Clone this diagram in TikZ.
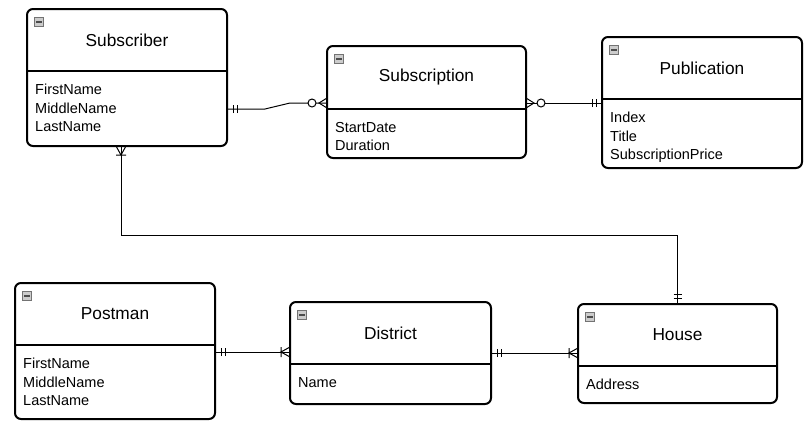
\documentclass[tikz,border=0pt]{standalone}
\usepackage{fontspec}
\setmainfont{Liberation Sans}
\usetikzlibrary{calc,decorations.markings}
\tikzset{
	entity/.style={draw, line width=2pt, rounded corners=6pt, outer sep=0pt, inner sep=0pt},
	entity line/.style={line width=2pt},
	entity title/.style={font=\fontsize{17.3}{20}\selectfont},
	entity fields/.style={font=\fontsize{14.5}{18.5}\selectfont, align=left, inner sep=0pt, anchor=north west},
	minus icon/.style={draw=black!55, fill=black!20, line width=0.8pt, minimum size=9pt, inner sep=0pt, outer sep=0pt},
	rel/.style={line width=1pt},
	onlyone start/.style={postaction={decorate, decoration={markings,
		mark=at position 6pt with {\draw[rel] (0,-4pt) -- (0,4pt);},
		mark=at position 10pt with {\draw[rel] (0,-4pt) -- (0,4pt);}}}},
	onlyone end/.style={postaction={decorate, decoration={markings,
		mark=at position -6pt with {\draw[rel] (0,-4pt) -- (0,4pt);},
		mark=at position -10pt with {\draw[rel] (0,-4pt) -- (0,4pt);}}}},
	zeromany start/.style={postaction={decorate, decoration={markings,
		mark=at position 8pt with {\draw[rel] (-8pt,5pt) -- (0,0) -- (-8pt,-5pt);},
		mark=at position 15pt with {\draw[rel, fill=white] (0,0) circle (4pt);}}}},
	zeromany end/.style={postaction={decorate, decoration={markings,
		mark=at position -8pt with {\draw[rel] (8pt,5pt) -- (0,0) -- (8pt,-5pt);},
		mark=at position -15pt with {\draw[rel, fill=white] (0,0) circle (4pt);}}}},
	onemany start/.style={postaction={decorate, decoration={markings,
		mark=at position 9pt with {\draw[rel] (-9pt,5pt) -- (0,0) -- (-9pt,-5pt) (0,-5pt) -- (0,5pt);}}}},
	onemany end/.style={postaction={decorate, decoration={markings,
		mark=at position -9pt with {\draw[rel] (9pt,5pt) -- (0,0) -- (9pt,-5pt) (0,-5pt) -- (0,5pt);}}}},
}
% entity box: name, top left, width:height:header height, title, fields
\def\entity(#1)(#2,#3)(#4:#5:#6)#7#8{
	\node[entity, minimum width=#4pt, minimum height=#5pt, anchor=north west] (#1) at (#2,#3) {};
	\draw[entity line] ([yshift=-#6pt]#1.north west) -- ([yshift=-#6pt]#1.north east);
	\node[minus icon] (#1icon) at ([xshift=12pt,yshift=-13pt]#1.north west) {};
	\draw[line width=1.4pt, black!70] ([xshift=-3pt]#1icon.center) -- ([xshift=3pt]#1icon.center);
	\node[entity title] (#1title) at ([yshift=-#6pt/2]#1.north) {#7};
	\node[entity fields] (#1fields) at ([xshift=8pt,yshift=-#6pt-13pt]#1.north west) {#8};
}
\begin{document}
\begin{tikzpicture}[x=1pt, y=-1pt]
	%%%%% START %%%%%
	\useasboundingbox (0,0) rectangle (806,437);
	
	\entity(subscriber)(27,9)(200:137:62){Subscriber}{FirstName\\MiddleName\\LastName}
	\entity(subscription)(327,46)(199:112:63){Subscription}{StartDate\\Duration}
	\entity(publication)(602,37)(200:131:62){Publication}{Index\\Title\\SubscriptionPrice}
	
	\entity(postman)(15,283)(200:136:62){Postman}{FirstName\\MiddleName\\LastName}
	\entity(district)(290,302)(201:102:62){District}{Name}
	\entity(house)(578,304)(199:99:62){House}{Address}
	
	\draw[rel, onlyone start, zeromany end] (subscriber.east |- 0,109) -- ++(38,0) -- ++(25,-6) -- (subscription.west |- 0,103);
	\draw[rel, zeromany start, onlyone end] (subscription.east |- 0,103) -- (publication.west |- 0,103);
	\draw[rel, onemany start, onlyone end] (121,0 |- subscriber.south) -- (121,235) -| (house.north);
	
	\draw[rel, onlyone start, onemany end] (postman.east |- 0,352) -- (district.west |- 0,352);
	\draw[rel, onlyone start, onemany end] (district.east |- 0,353) -- (house.west |- 0,353);
	
	%%%%% END %%%%%
\end{tikzpicture}
\end{document}
